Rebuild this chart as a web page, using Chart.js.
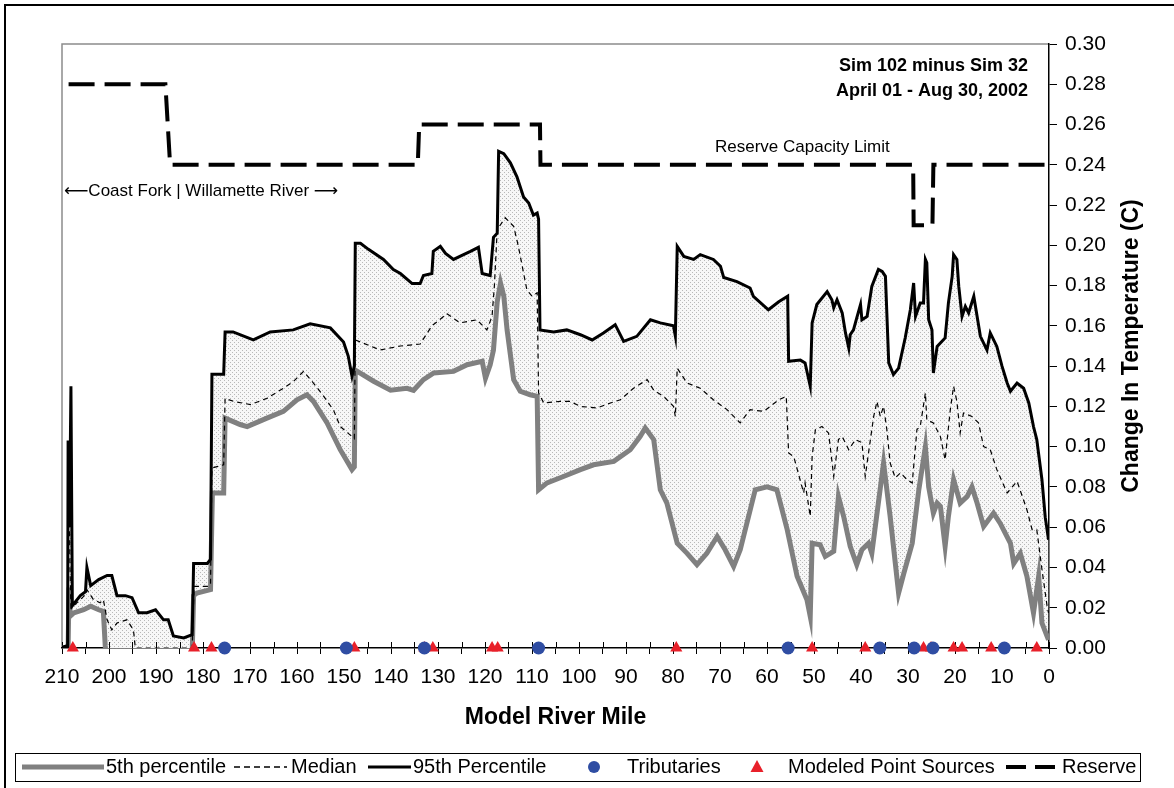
<!DOCTYPE html>
<html><head><meta charset="utf-8">
<script src="https://cdn.jsdelivr.net/npm/chart.js@4.4.0/dist/chart.umd.min.js"></script>
<style>html,body{margin:0;padding:0;background:#fff;}canvas{display:block}</style>
</head><body>
<canvas id="c" width="1174" height="788"></canvas>
<script>
// ---------- DATA ----------
const seriesNames = ['5th percentile', 'Median', '95th Percentile', 'Tributaries', 'Modeled Point Sources', 'Reserve'];

const p95Miles = [210.5,209.1,208.8,208.7,208.4,208.1,207.8,206.1,205.0,204.7,
  203.9,202.2,200.4,199.4,198.3,196.5,195.1,193.7,191.9,190.1,
  188.4,187.4,186.3,184.1,182.3,182.0,179.1,178.4,178.1,175.6,
  175.3,173.6,169.3,165.7,160.8,157.2,152.9,150.1,149.1,148.3,
  147.8,147.6,146.5,144.8,141.6,139.5,138.0,135.5,133.8,133.1,
  131.3,131.0,129.5,128.4,126.7,124.9,123.1,121.4,120.6,118.9,
  118.2,117.4,117.1,116.0,114.6,113.2,111.8,110.7,109.7,108.9,
  108.6,108.3,105.4,102.6,99.7,97.2,94.8,92.3,90.5,87.7,
  84.8,82.7,79.9,79.5,79.1,77.7,75.6,74.2,71.4,69.9,
  69.2,66.4,63.6,62.9,59.7,57.5,55.6,55.4,52.9,51.9,
  50.8,50.4,49.4,47.2,46.2,45.8,45.1,44.0,43.3,42.6,
  42.3,41.6,40.9,40.1,39.8,38.7,37.7,36.3,35.5,34.8,
  34.1,33.1,32.0,30.6,29.5,28.8,28.4,27.4,26.7,26.3,
  26.0,25.6,24.9,24.6,23.8,22.1,21.4,20.6,20.3,19.6,
  19.2,18.5,17.8,17.1,16.0,14.6,13.2,12.5,11.1,10.0,
  8.9,8.2,6.8,5.4,4.3,3.3,2.6,1.5,0.8,0.1];
const p95Vals = [0,0.001,0,0.103,0.060,0.130,0.021,0.026,0.028,0.040,
  0.031,0.034,0.036,0.036,0.026,0.026,0.025,0.0175,0.0175,0.019,
  0.014,0.014,0.006,0.005,0.0066,0.042,0.042,0.044,0.136,0.136,
  0.157,0.157,0.153,0.157,0.158,0.161,0.159,0.152,0.145,0.135,
  0.140,0.201,0.201,0.198,0.193,0.188,0.186,0.181,0.181,0.185,
  0.186,0.197,0.1995,0.196,0.193,0.195,0.197,0.199,0.186,0.185,
  0.204,0.206,0.2467,0.2455,0.241,0.234,0.224,0.221,0.215,0.216,
  0.213,0.158,0.157,0.158,0.1556,0.153,0.1565,0.1606,0.1523,0.1548,
  0.163,0.1615,0.160,0.155,0.1995,0.1945,0.193,0.1954,0.193,0.1896,
  0.184,0.182,0.1788,0.1747,0.168,0.172,0.1747,0.1424,0.143,0.1416,
  0.130,0.1615,0.1706,0.177,0.173,0.169,0.173,0.1664,0.1565,0.149,
  0.1556,0.158,0.164,0.1706,0.163,0.1647,0.1796,0.188,0.187,0.1846,
  0.1416,0.1358,0.139,0.154,0.168,0.1813,0.1647,0.1714,0.1714,0.193,
  0.1913,0.163,0.158,0.1366,0.1498,0.154,0.1714,0.1846,0.1954,0.193,
  0.1796,0.1647,0.1697,0.1664,0.1747,0.1548,0.148,0.1565,0.1498,0.140,
  0.1316,0.1275,0.1316,0.129,0.1217,0.110,0.1035,0.0836,0.065,0.0538];

const medMiles = [210.5,208.8,208.6,208.3,208.1,207.5,205.4,204.7,203.3,201.9,
  201.2,200.4,199.4,198.3,196.2,194.8,194.4,182.3,181.9,178.8,
  178.4,178.1,175.6,175.3,173.5,169.9,166.4,162.9,160.7,158.6,
  156.5,154.3,152.2,150.8,148.3,147.8,147.6,144.4,142.3,138.0,
  133.8,131.3,128.1,125.3,121.7,119.6,118.5,118.0,117.4,115.7,
  113.9,112.9,111.1,110.0,108.9,108.6,107.5,104.0,101.9,99.7,
  96.2,93.3,91.2,88.4,85.5,84.1,82.0,79.9,79.5,79.1,
  77.0,74.2,71.4,68.5,65.7,63.6,60.7,57.5,55.9,55.4,
  54.3,52.2,51.9,50.8,50.4,49.7,48.3,46.9,45.8,44.8,
  44.0,42.6,41.2,39.8,39.1,38.0,37.3,36.6,35.9,35.2,
  34.5,33.8,32.7,31.6,30.2,29.1,28.1,27.4,26.3,26.0,
  24.6,23.1,22.1,21.0,20.3,19.6,18.9,18.2,16.4,15.0,
  13.9,12.5,11.1,8.9,6.8,4.7,3.6,2.6,1.5,0.4,0.1];
const medVals = [0,0,0.103,0.04,0.02,0.021,0.0256,0.029,0.024,0.0225,
  0.024,0.014,0.009,0.0124,0.014,0.009,0,0,0.0306,0.0306,
  0.032,0.0894,0.091,0.124,0.1225,0.1209,0.124,0.129,0.1325,0.1374,
  0.1316,0.125,0.118,0.110,0.105,0.104,0.153,0.150,0.148,0.150,
  0.151,0.160,0.166,0.1615,0.163,0.158,0.1647,0.180,0.2078,0.2137,
  0.2094,0.1995,0.178,0.1747,0.1764,0.1267,0.1217,0.1225,0.1225,0.120,
  0.1192,0.1217,0.1233,0.129,0.1333,0.128,0.125,0.120,0.115,0.139,
  0.1316,0.129,0.1233,0.1184,0.1118,0.1184,0.1175,0.1233,0.125,0.0969,
  0.095,0.077,0.082,0.0654,0.095,0.1085,0.110,0.1068,0.0852,0.1035,
  0.105,0.0985,0.1035,0.102,0.0852,0.1035,0.115,0.1225,0.115,0.120,
  0.1085,0.0919,0.0845,0.087,0.0836,0.082,0.1085,0.110,0.1267,0.1134,
  0.1118,0.105,0.0935,0.1184,0.130,0.1225,0.1068,0.1167,0.115,0.1118,
  0.100,0.0985,0.0886,0.077,0.0828,0.0687,0.0588,0.0588,0.039,0.0207,0.0175];

const p5Miles = [210.5,208.7,208.5,208.3,207.5,205.4,203.9,202.2,201.2,200.8,
  200.4,199.7,186.9,186.2,182.3,182.0,181.3,178.4,178.0,175.6,
  175.3,172.1,170.6,166.4,162.9,160.0,157.9,156.5,153.6,150.8,
  148.3,147.8,147.6,143.7,140.1,136.6,135.2,133.1,130.9,126.7,
  123.8,120.6,119.9,118.9,118.2,117.4,116.7,116.0,115.3,113.9,
  112.5,110.4,108.9,108.6,106.8,103.3,99.7,96.9,92.6,89.1,
  87.0,85.9,84.1,82.7,81.3,79.1,77.0,74.9,72.8,70.6,
  68.9,67.1,65.7,62.5,60.0,57.9,55.7,53.6,51.5,50.8,
  50.4,48.7,47.6,45.8,44.8,43.7,42.3,40.9,39.8,38.4,
  37.7,35.2,33.8,32.0,30.9,29.1,27.7,26.3,25.6,24.6,
  23.8,23.1,22.1,21.4,20.3,18.9,17.4,16.4,15.3,13.9,
  11.8,10.4,8.2,7.5,6.1,4.7,3.3,2.2,1.5,0.4,0.1];
const p5Vals = [0,0,0.03,0.0157,0.0174,0.019,0.0207,0.019,0.0182,0.001,
  -0.01,-0.02,-0.02,-0.003,-0.003,0.026,0.0273,0.029,0.077,0.077,
  0.1142,0.111,0.110,0.1142,0.1175,0.1233,0.1258,0.1225,0.1118,0.0985,
  0.0886,0.09,0.138,0.1325,0.128,0.129,0.128,0.1333,0.1366,0.1374,
  0.1407,0.1424,0.134,0.1407,0.148,0.172,0.1813,0.1747,0.158,0.1333,
  0.1275,0.1258,0.125,0.0786,0.082,0.0852,0.0886,0.091,0.0927,0.0985,
  0.105,0.1093,0.1035,0.0786,0.072,0.052,0.047,0.0414,0.047,0.0554,
  0.0488,0.0405,0.0488,0.0786,0.080,0.0786,0.0588,0.0356,0.024,0.0157,
  0.052,0.0513,0.0455,0.048,0.0753,0.0654,0.0505,0.0414,0.0488,0.052,
  0.047,0.0919,0.0654,0.0273,0.037,0.052,0.0786,0.100,0.080,0.067,
  0.072,0.0703,0.0505,0.0654,0.0836,0.072,0.0753,0.080,0.072,0.0604,
  0.067,0.062,0.052,0.042,0.047,0.0356,0.0174,0.0356,0.0124,0.0058,0.004];

const reserveMiles = [208.6,188.0,187.0,134.3,134.0,108.3,108.2,28.9,28.8,24.8,24.6,0];
const reserveVals  = [0.28,0.28,0.24,0.24,0.26,0.26,0.24,0.24,0.21,0.21,0.24,0.24];

const tribMiles = [175.4,149.5,132.9,108.6,55.5,36.0,28.7,24.7,9.5];
const tribVals  = [0,0,0,0,0,0,0,0,0];

const psMiles = [207.7,181.9,178.2,147.8,132.9,131.1,118.5,117.3,79.3,50.4,39.1,26.7,25.1,20.3,18.5,12.3,2.6];
const psVals  = [0,0,0,0,0,0,0,0,0,0,0,0,0,0,0,0,0];

const xTickStep = 5, xLabelStep = 10, xMin = 0, xMax = 210;
const yMin = 0, yMax = 0.30, yStep = 0.02;

const annotations = {
  sim: 'Sim 102 minus Sim 32',
  period: 'April 01 - Aug 30, 2002',
  reserve: 'Reserve Capacity Limit',
  reach: '\u27F5Coast Fork | Willamette River \u27F6',
  xTitle: 'Model River Mile',
  yTitle: 'Change In Temperature (C)'
};

// ---------- STYLE ----------
const FONT = '"Liberation Sans", Arial, "DejaVu Sans", sans-serif';
const GRAY = '#808080', BLUE = '#2F4DA3', RED = '#E8202A';

function pts(xs, ys){ return xs.map((x,i)=>({x:x, y:ys[i]})); }

// stipple pattern for band
const pc = document.createElement('canvas'); pc.width = 4; pc.height = 4;
const pg = pc.getContext('2d');
pg.fillStyle = '#f7f7f7'; pg.fillRect(0,0,4,4);
pg.fillStyle = '#b8b8b8'; pg.fillRect(0,0,1,1); pg.fillRect(2,2,1,1);
const ctx0 = document.getElementById('c').getContext('2d');
const stipple = ctx0.createPattern(pc, 'repeat');

const decor = {
  id: 'decor',
  beforeDraw(chart){
    const c = chart.ctx, a = chart.chartArea;
    c.save();
    c.fillStyle = '#fff'; c.fillRect(0,0,chart.width,chart.height);
    c.strokeStyle = '#000'; c.lineWidth = 2;
    c.beginPath(); c.moveTo(5, chart.height); c.lineTo(5,5); c.lineTo(chart.width,5); c.stroke();
    c.strokeStyle = '#8c8c8c'; c.lineWidth = 1.5;
    c.beginPath(); c.moveTo(a.left, a.bottom); c.lineTo(a.left, a.top); c.lineTo(a.right, a.top); c.stroke();
    c.restore();
  },
  beforeDatasetsDraw(chart){
    const c = chart.ctx, a = chart.chartArea, xs = chart.scales.x;
    c.save(); c.strokeStyle = '#000'; c.lineWidth = 1;
    xs.ticks.forEach(t => {
      const px = Math.round(xs.getPixelForValue(t.value)) + 0.5;
      c.beginPath(); c.moveTo(px, a.bottom - 6); c.lineTo(px, a.bottom); c.stroke();
    });
    c.restore();
  },
  afterDraw(chart){
    const c = chart.ctx, a = chart.chartArea;
    c.save();
    c.fillStyle = '#000';
    c.textBaseline = 'middle';
    c.font = 'bold 18px ' + FONT; c.textAlign = 'right';
    c.fillText(annotations.sim, 1028, 66);
    c.fillText(annotations.period, 1028, 91);
    c.font = '17px ' + FONT; c.textAlign = 'left';
    c.fillText(annotations.reserve, 715, 147);
    c.fillText(annotations.reach, 64, 191);
    c.font = 'bold 23px ' + FONT; c.textAlign = 'center';
    c.fillText(annotations.xTitle, (a.left + a.right)/2, 718);
    c.save();
    c.translate(1138, (a.top + a.bottom)/2);
    c.rotate(-Math.PI/2);
    c.textBaseline = 'alphabetic';
    c.fillText(annotations.yTitle, 0, 0);
    c.restore();

    // legend
    const ly = 767;
    c.strokeStyle = '#000'; c.lineWidth = 1;
    c.strokeRect(15.5, 753.5, 1125, 28);
    c.font = '20px ' + FONT; c.textAlign = 'left'; c.textBaseline = 'middle';
    function line(x1, x2, color, w, dash){
      c.save(); c.strokeStyle = color; c.lineWidth = w; c.setLineDash(dash);
      c.beginPath(); c.moveTo(x1, ly); c.lineTo(x2, ly); c.stroke(); c.restore();
    }
    line(22, 104, GRAY, 5, []);
    c.fillText(seriesNames[0], 106, ly);
    line(234, 287, '#000', 1.3, [6,4]);
    c.fillText(seriesNames[1], 291, ly);
    line(368, 411, '#000', 3, []);
    c.fillText(seriesNames[2], 413, ly);
    c.fillStyle = BLUE; c.beginPath(); c.arc(594, ly, 6, 0, Math.PI*2); c.fill();
    c.fillStyle = '#000'; c.fillText(seriesNames[3], 627, ly);
    c.fillStyle = RED; c.beginPath(); c.moveTo(757, ly-7); c.lineTo(763.5, ly+5); c.lineTo(750.5, ly+5); c.closePath(); c.fill();
    c.fillStyle = '#000'; c.fillText(seriesNames[4], 788, ly);
    line(1006, 1060, '#000', 4, [20,9]);
    c.fillText(seriesNames[5], 1062, ly);
    c.restore();
  }
};

new Chart(ctx0, {
  type: 'line',
  data: {
    datasets: [
      { label: seriesNames[2], data: pts(p95Miles, p95Vals), borderColor: '#000', borderWidth: 3,
        pointRadius: 0, fill: {target: 2}, backgroundColor: stipple, order: 2, tension: 0 },
      { label: seriesNames[1], data: pts(medMiles, medVals), borderColor: '#000', borderWidth: 1.2,
        borderDash: [5,4], pointRadius: 0, fill: false, order: 3 },
      { label: seriesNames[0], data: pts(p5Miles, p5Vals), borderColor: GRAY, borderWidth: 5,
        pointRadius: 0, fill: false, order: 4 },
      { label: seriesNames[5], data: pts(reserveMiles, reserveVals), borderColor: '#000', borderWidth: 4,
        borderDash: [26,10], pointRadius: 0, fill: false, order: 1 },
      { label: seriesNames[3], data: pts(tribMiles, tribVals), showLine: false, pointStyle: 'circle',
        pointRadius: 6.5, pointBackgroundColor: BLUE, pointBorderColor: BLUE, pointBorderWidth: 0, clip: false, order: 0 },
      { label: seriesNames[4], data: pts(psMiles, psVals), showLine: false, pointStyle: 'triangle',
        pointRadius: 7, pointBackgroundColor: RED, pointBorderColor: RED, pointBorderWidth: 0, clip: false, order: 0 }
    ]
  },
  options: {
    responsive: false, animation: false, devicePixelRatio: 1,
    layout: { padding: { left: 62, top: 44, right: 0, bottom: 0 } },
    plugins: { legend: { display: false }, tooltip: { enabled: false }, filler: { drawTime: 'beforeDatasetsDraw' } },
    scales: {
      x: {
        type: 'linear', reverse: true, min: xMin, max: xMax,
        afterFit(s){ s.height = 140; },
        ticks: { stepSize: xTickStep, autoSkip: false, maxRotation: 0, padding: 11, color: '#000',
          font: { family: FONT, size: 21 },
          callback: v => (v % xLabelStep === 0 ? String(v) : '') },
        grid: { drawOnChartArea: false, drawTicks: true, tickLength: 6, color: '#000', lineWidth: 1 },
        border: { color: '#000', width: 1.5 }
      },
      y: {
        position: 'right', min: yMin, max: yMax,
        afterFit(s){ s.width = 125; },
        ticks: { stepSize: yStep, padding: 8, color: '#000', font: { family: FONT, size: 21 },
          callback: v => v.toFixed(2) },
        grid: { drawOnChartArea: false, drawTicks: true, tickLength: 8, color: '#000' },
        border: { color: '#000', width: 1.5 }
      }
    }
  },
  plugins: [decor]
});
</script>
</body></html>
